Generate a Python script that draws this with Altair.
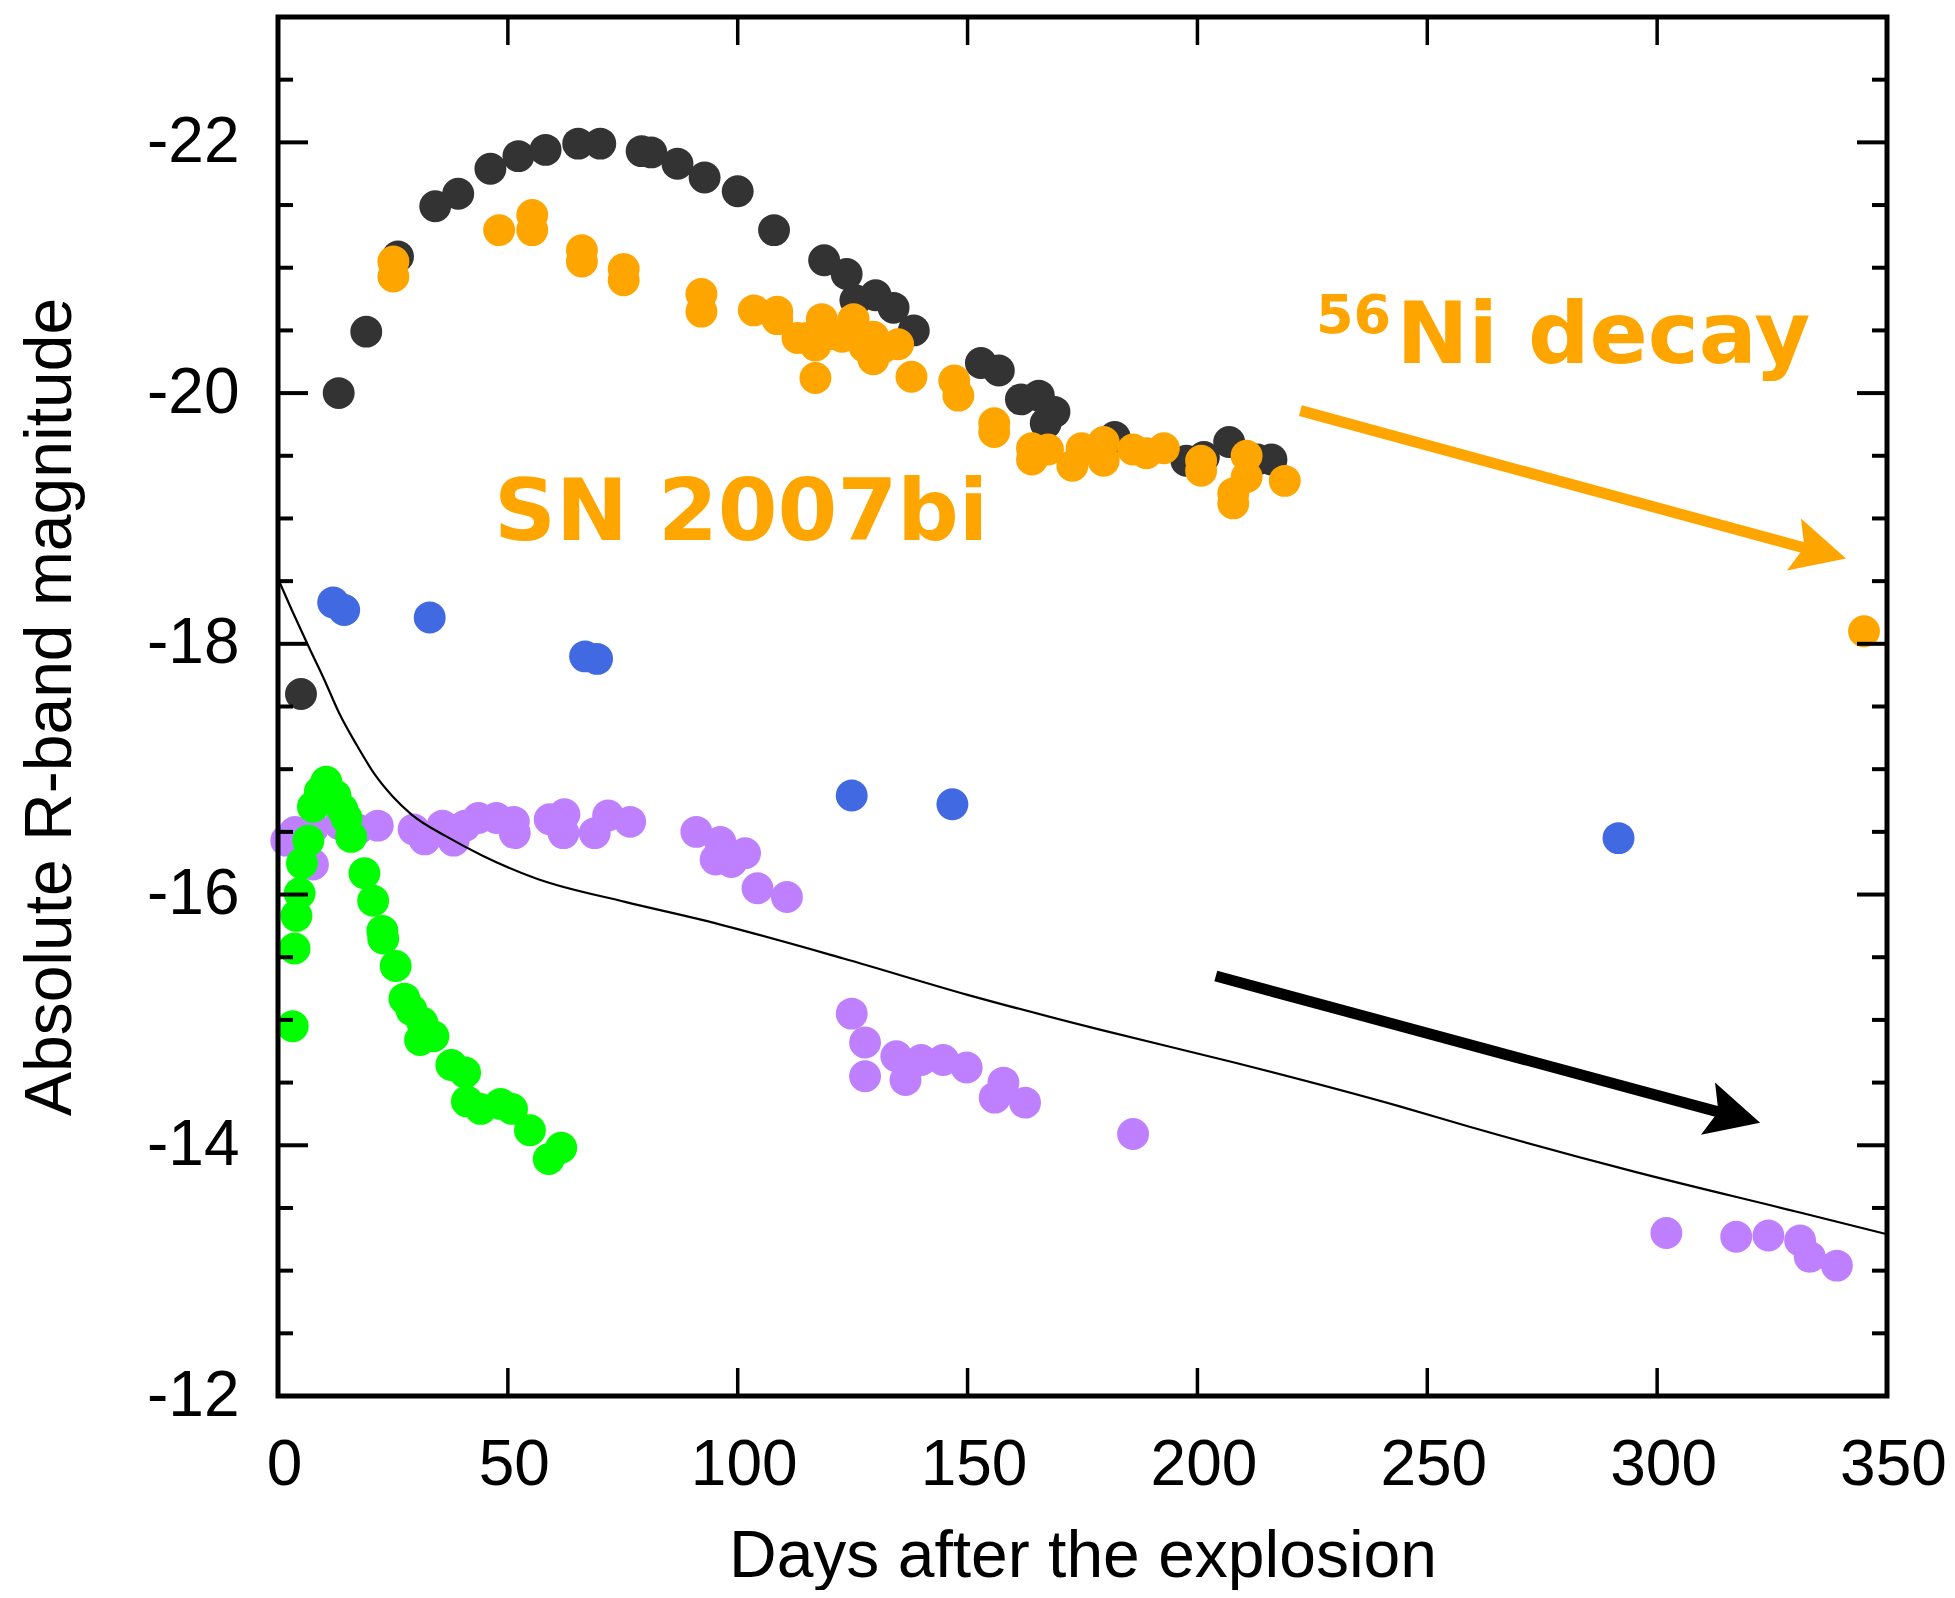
import altair as alt
import pandas as pd

# ---------------- data ----------------
black_day = [5.0, 13.2, 19.2, 26.1, 34.2, 39.2, 46.2, 52.3, 58.2, 65.3, 70.1, 79.1, 81.2,
             86.9, 92.8, 100.0, 107.9, 118.8, 123.7, 125.6, 130.0, 133.9, 138.3, 152.9,
             156.8, 161.6, 165.5, 168.9, 167.0, 182.0, 197.6, 201.4, 206.9, 213.0, 216.1]
black_mag = [-17.60, -20.00, -20.49, -21.09, -21.49, -21.59, -21.79, -21.89, -21.94, -21.99,
             -21.99, -21.93, -21.92, -21.83, -21.72, -21.61, -21.30, -21.06, -20.95, -20.74,
             -20.78, -20.68, -20.50, -20.24, -20.18, -19.95, -19.98, -19.85, -19.76, -19.65,
             -19.46, -19.49, -19.61, -19.47, -19.47]

orange_day = [25.1, 25.1, 48.1, 55.3, 55.3, 66.1, 66.1, 75.2, 75.2, 92.1, 92.1, 103.5,
              108.6, 108.6, 113.0, 115.0, 116.9, 116.9, 118.3, 120.8, 122.7, 125.2, 127.6,
              129.5, 129.5, 131.5, 134.9, 137.8, 147.1, 148.0, 155.8, 155.8, 164.0, 164.0,
              167.5, 172.8, 174.8, 179.6, 179.6, 186.0, 188.9, 192.7, 200.8, 200.8, 207.8,
              207.8, 210.7, 210.7, 219.0, 345.0]
orange_mag = [-21.05, -20.93, -21.30, -21.42, -21.30, -21.14, -21.05, -20.99, -20.90, -20.79,
              -20.65, -20.66, -20.65, -20.59, -20.44, -20.44, -20.38, -20.12, -20.59, -20.47,
              -20.45, -20.59, -20.37, -20.45, -20.27, -20.36, -20.39, -20.13, -20.10, -19.98,
              -19.76, -19.69, -19.56, -19.47, -19.55, -19.42, -19.56, -19.61, -19.46, -19.55,
              -19.52, -19.56, -19.38, -19.46, -19.12, -19.20, -19.50, -19.33, -19.30, -18.10]

blue_day = [12.0, 14.4, 33.0, 66.8, 69.4, 124.8, 146.7, 291.6]
blue_mag = [-18.33, -18.27, -18.21, -17.90, -17.88, -16.79, -16.72, -16.45]

purple_day = [1.8, 3.7, 7.6, 7.6, 13.4, 17.3, 21.7, 29.5, 31.9, 35.8, 38.2, 40.7, 43.6,
              47.5, 51.3, 51.5, 59.1, 62.1, 62.3, 68.9, 71.8, 76.6,
              91.0, 96.2, 95.2, 98.6, 101.6, 104.3, 110.7,
              124.8, 127.7, 127.7, 134.5, 136.5, 139.9, 144.7, 149.8, 155.9, 157.8, 162.5, 186.0,
              302.0, 317.2, 324.2, 331.1, 333.2, 339.1]
purple_mag = [-16.43, -16.50, -16.24, -16.53, -16.56, -16.52, -16.55, -16.52, -16.44, -16.55,
              -16.43, -16.55, -16.61, -16.61, -16.58, -16.49, -16.60, -16.49, -16.64, -16.49,
              -16.63, -16.58,
              -16.50, -16.42, -16.28, -16.26, -16.33, -16.05, -15.98,
              -15.05, -14.82, -14.55, -14.71, -14.52, -14.68, -14.68, -14.62, -14.38, -14.50,
              -14.34, -14.09,
              -13.30, -13.27, -13.28, -13.24, -13.11, -13.04]

green_day = [3.2, 3.6, 4.0, 4.7, 5.2, 6.6, 7.6, 9.1, 10.5, 12.5, 14.0, 14.9, 15.9, 18.8,
             20.7, 22.7, 22.9, 25.6, 27.5, 29.0, 30.9, 31.4, 33.8, 37.7, 40.7, 41.1, 44.1,
             48.4, 50.9, 54.8, 58.9, 61.6]
green_mag = [-14.95, -15.57, -15.83, -16.01, -16.25, -16.43, -16.70, -16.82, -16.90, -16.79,
             -16.68, -16.61, -16.46, -16.17, -15.95, -15.71, -15.65, -15.43, -15.17, -15.08,
             -14.84, -14.98, -14.87, -14.64, -14.58, -14.35, -14.29, -14.33, -14.29, -14.12,
             -13.89, -13.98]

curve_day = [0, 3, 6.5, 10, 13.4, 17, 21.2, 25, 29, 36.8, 44.5, 56, 75.7, 92, 123, 150,
             179, 208, 244, 259, 295, 331.5, 350]
curve_mag = [-18.52, -18.27, -17.99, -17.72, -17.44, -17.20, -16.95, -16.78, -16.64, -16.46,
             -16.31, -16.13, -15.94, -15.80, -15.49, -15.20, -14.92, -14.66, -14.31, -14.15,
             -13.79, -13.46, -13.29]

# arrows: shaft start / shaft end, head tip
orange_arrow_day = [222.4, 333.5]
orange_arrow_mag = [-19.86, -18.75]
orange_head = [341.1, -18.68]
black_arrow_day = [204.0, 314.9]
black_arrow_mag = [-15.35, -14.25]
black_head = [322.4, -14.18]

# annotations
labels_text = ["SN 2007bi", "56", "Ni decay"]
labels_day = [47.0, 225.8, 243.3]
labels_mag = [-18.83, -20.48, -20.24]

x_tick_labels = [0, 50, 100, 150, 200, 250, 300, 350]
x_inner_ticks = [50, 100, 150, 200, 250, 300]
y_tick_labels = [-22, -20, -18, -16, -14, -12]
y_major = [-22, -20, -18, -16, -14]
y_minor = [-22.5, -21.5, -21, -20.5, -19.5, -19, -18.5, -17.5, -17, -16.5,
           -15.5, -15, -14.5, -13.5, -13, -12.5]

# ---------------- styling ----------------
W, H = 1609, 1379
FONT = "Liberation Sans"
ORANGE = "#FFA500"
BLACKPT = "#333333"
BLUE = "#4169E1"
PURPLE = "#BF80FF"
GREEN = "#00FF00"
DOT = 1018
ANNOT_FONT = "DejaVu Sans"

xscale = alt.Scale(domain=[0, 350], nice=False, zero=False)
yscale = alt.Scale(domain=[-23, -12], reverse=True, nice=False, zero=False)

xaxis = alt.Axis(values=x_tick_labels, title="Days after the explosion", ticks=False,
                 domain=False, grid=False, format="d",
                 labelFont=FONT, labelFontSize=64, labelPadding=37, labelOffset=6,
                 labelFlush=False, labelOverlap=False, labelColor="black",
                 titleFont=FONT, titleFontSize=66, titleFontWeight="normal",
                 titleColor="black", titleX=W / 2, titleY=180, titleAlign="center",
                 titleBaseline="alphabetic")
yaxis = alt.Axis(values=y_tick_labels, title="Absolute R-band magnitude", ticks=False,
                 domain=False, grid=False,
                 labelExpr="datum.value < 0 ? '-' + format(-datum.value, 'd') : format(datum.value, 'd')",
                 labelFont=FONT, labelFontSize=64, labelPadding=39, labelOverlap=False,
                 labelColor="black",
                 titleFont=FONT, titleFontSize=66, titleFontWeight="normal",
                 titleColor="black", titleAngle=270, titleX=-208, titleY=H / 2,
                 titleAlign="center", titleBaseline="alphabetic")


def X(field="day"):
    return alt.X(f"{field}:Q", scale=xscale, axis=xaxis)


def Y(field="mag"):
    return alt.Y(f"{field}:Q", scale=yscale, axis=yaxis)


def points(days, mags, color):
    df = pd.DataFrame({"day": days, "mag": mags})
    return alt.Chart(df).mark_circle(size=DOT, color=color, opacity=1, strokeWidth=0).encode(
        x=X(), y=Y())


layers = []
layers.append(points(black_day, black_mag, BLACKPT))
layers.append(points(orange_day, orange_mag, ORANGE))
layers.append(points(blue_day, blue_mag, BLUE))
layers.append(points(purple_day, purple_mag, PURPLE))
layers.append(points(green_day, green_mag, GREEN))

curve_df = pd.DataFrame({"day": curve_day, "mag": curve_mag})
layers.append(alt.Chart(curve_df).mark_line(color="black", strokeWidth=2.2,
                                            interpolate="monotone").encode(x=X(), y=Y()))

# frame
frame_df = pd.DataFrame({"k": [0]})
layers.append(alt.Chart(frame_df).mark_rect(fillOpacity=0, stroke="black", strokeWidth=5).encode(
    x=alt.value(0), x2=alt.value(W), y=alt.value(0), y2=alt.value(H)))

# inward ticks
ymaj_df = pd.DataFrame({"mag": y_major})
ymin_df = pd.DataFrame({"mag": y_minor})
xt_df = pd.DataFrame({"day": x_inner_ticks})
for df, ln in ((ymaj_df, 30), (ymin_df, 15)):
    layers.append(alt.Chart(df).mark_rule(color="black", strokeWidth=4).encode(
        y=Y(), x=alt.value(0), x2=alt.value(ln)))
    layers.append(alt.Chart(df).mark_rule(color="black", strokeWidth=4).encode(
        y=Y(), x=alt.value(W), x2=alt.value(W - ln)))
layers.append(alt.Chart(xt_df).mark_rule(color="black", strokeWidth=3.5).encode(
    x=X(), y=alt.value(H), y2=alt.value(H - 28)))
layers.append(alt.Chart(xt_df).mark_rule(color="black", strokeWidth=3.5).encode(
    x=X(), y=alt.value(0), y2=alt.value(28)))

# arrows
HEAD = "M0,0 L-2,-1 L-1.6,0 L-2,1 Z"
for ad, am, head, col in ((orange_arrow_day, orange_arrow_mag, orange_head, ORANGE),
                          (black_arrow_day, black_arrow_mag, black_head, "black")):
    sdf = pd.DataFrame({"day": ad, "mag": am})
    layers.append(alt.Chart(sdf).mark_line(color=col, strokeWidth=11, strokeCap="butt").encode(
        x=X(), y=Y()))
    hdf = pd.DataFrame({"day": [head[0]], "mag": [head[1]]})
    layers.append(alt.Chart(hdf).mark_point(shape=HEAD, filled=True, size=2916, angle=15.1,
                                            color=col, opacity=1, strokeWidth=0).encode(
        x=X(), y=Y()))

# annotations
sizes = [86, 54, 86]
for t, d, m, fs in zip(labels_text, labels_day, labels_mag, sizes):
    tdf = pd.DataFrame({"day": [d], "mag": [m], "label": [t]})
    layers.append(alt.Chart(tdf).mark_text(font=ANNOT_FONT, fontWeight="bold", fontSize=fs,
                                           align="left", baseline="alphabetic",
                                           color=ORANGE).encode(
        x=X(), y=Y(), text="label:N"))

chart = alt.layer(*layers).properties(
    width=W, height=H,
    autosize=alt.AutoSizeParams(type="none"),
    padding={"left": 270, "top": 9, "right": 60, "bottom": 194},
).configure(background="white").configure_view(strokeWidth=0)

chart.save("out.html", embed_options={"renderer": "svg", "actions": False})
